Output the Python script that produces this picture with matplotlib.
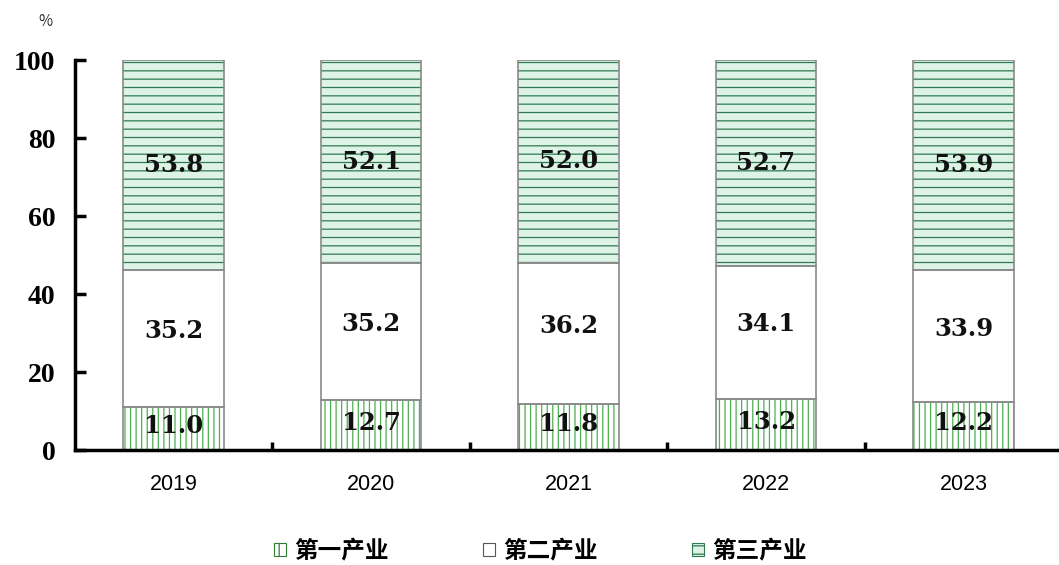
import matplotlib.pyplot as plt
from matplotlib.patches import Patch

years = ["2019", "2020", "2021", "2022", "2023"]
primary = [11.0, 12.7, 11.8, 13.2, 12.2]
secondary = [35.2, 35.2, 36.2, 34.1, 33.9]
tertiary = [53.8, 52.1, 52.0, 52.7, 53.9]
series_names = ["第一产业", "第二产业", "第三产业"]

plt.rcParams["font.family"] = ["Noto Sans CJK SC", "DejaVu Sans"]
plt.rcParams["hatch.linewidth"] = 0.9

fig = plt.figure(figsize=(10.59, 5.65), dpi=100)
ax = fig.add_axes((75 / 1059, 1 - 450 / 565, 1 - 75 / 1059 + 0.003, 390 / 565))

x = list(range(len(years)))
width = 0.51
edge = "#8a8a8a"

bottom2 = primary
bottom3 = [p + s for p, s in zip(primary, secondary)]

# hatch layers (edgecolor drives hatch colour), then grey outlines
ax.bar(x, primary, width, color="white", edgecolor="#4caf50", hatch="|||", linewidth=0)
ax.bar(x, secondary, width, bottom=bottom2, color="white", linewidth=0)
ax.bar(x, tertiary, width, bottom=bottom3, color="#dcf3e6", edgecolor="#2f7a50",
       hatch="--", linewidth=0)
for vals, bots in [(primary, [0] * 5), (secondary, bottom2), (tertiary, bottom3)]:
    ax.bar(x, vals, width, bottom=bots, fill=False, edgecolor=edge, linewidth=1.2)

label_font = dict(family="DejaVu Serif", fontweight="bold", fontsize=17.5, color="#111111")
for i in x:
    ax.text(i, primary[i] / 2 + 0.7, f"{primary[i]:.1f}", ha="center", va="center", **label_font)
    ax.text(i, bottom2[i] + secondary[i] / 2 + 2.0, f"{secondary[i]:.1f}", ha="center",
            va="center", **label_font)
    ax.text(i, bottom3[i] + tertiary[i] / 2, f"{tertiary[i]:.1f}", ha="center", va="center",
            **label_font)

ax.set_xlim(-0.5, 4.5)
ax.set_ylim(0, 100)
ax.set_yticks(range(0, 101, 20))
ax.set_yticklabels([str(v) for v in range(0, 101, 20)], family="Liberation Serif",
                   fontweight="bold", fontsize=20)
ax.set_xticks([i + 0.5 for i in x])
ax.set_xticklabels([])
ax.set_xticks(x, minor=True)
ax.set_xticklabels(years, minor=True, family="Liberation Sans", fontsize=15.5)
ax.tick_params(axis="x", which="minor", length=0, pad=17)
ax.tick_params(axis="x", which="major", direction="in", length=6, width=2.5)
ax.tick_params(axis="y", direction="in", length=8, width=2.5, pad=14)

for s in ["top", "right"]:
    ax.spines[s].set_visible(False)
ax.spines["left"].set_linewidth(2.5)
ax.spines["bottom"].set_linewidth(2.5)

fig.text(45 / 1059, 1 - 22 / 565, "%", ha="center", va="center", fontsize=11, color="#333333")

handles = [
    Patch(facecolor="white", edgecolor="#2e7d32", hatch="||", linewidth=0.8),
    Patch(facecolor="white", edgecolor="#555555", linewidth=0.8),
    Patch(facecolor="#dcf3e6", edgecolor="#2f7a50", hatch="--", linewidth=0.8),
]
fig.legend(handles, series_names, loc="center", bbox_to_anchor=(0.51, 1 - 551 / 565),
           ncol=3, frameon=False, handlelength=0.5, handleheight=0.5, handletextpad=0.35,
           columnspacing=4.0, prop=dict(family="Noto Sans CJK SC", weight="bold", size=17))

fig.savefig("out.png", dpi=100)
